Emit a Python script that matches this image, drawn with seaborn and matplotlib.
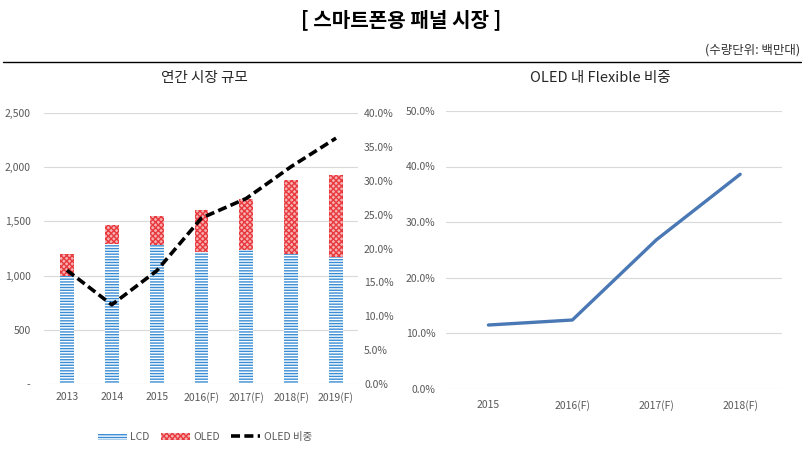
import numpy as np
import pandas as pd
import matplotlib
matplotlib.use("Agg")
import matplotlib.pyplot as plt
import matplotlib.ticker as mticker
from matplotlib.patches import Patch
from matplotlib.lines import Line2D
import seaborn as sns

# 데이터 (백만대, %)
years = ["2013", "2014", "2015", "2016(F)", "2017(F)", "2018(F)", "2019(F)"]
lcd = [1000, 1290, 1280, 1215, 1240, 1200, 1175]
oled = [200, 175, 270, 390, 470, 680, 750]
oled_share = [16.8, 11.7, 16.7, 24.5, 27.4, 32.1, 36.3]

flex_years = ["2015", "2016(F)", "2017(F)", "2018(F)"]
flex_share = [11.5, 12.4, 26.8, 38.6]

sns.set_theme(style="white")
plt.rcParams['font.family'] = ['Noto Sans CJK KR', 'DejaVu Sans']
plt.rcParams['hatch.linewidth'] = 1.0

df = pd.DataFrame({"year": years, "lcd": lcd, "oled": oled, "share": oled_share})
df["total"] = df["lcd"] + df["oled"]
df_flex = pd.DataFrame({"year": flex_years, "share": flex_share})

grid_c = "#D9D9D9"
tick_c = "#595959"
blue = "#3A8DD4"
red = "#E8393F"
pink = "#F7B0B0"

fig = plt.figure(figsize=(8.03, 4.5), dpi=100)

fig.text(0.5, 0.957, "[ 스마트폰용 패널 시장 ]", ha="center", va="center",
         fontsize=14.5, fontweight="bold", color="black")
fig.text(0.997, 0.888, "(수량단위: 백만대)", ha="right", va="center", fontsize=9, color="#333333")
fig.add_artist(Line2D([0.004, 0.998], [0.862, 0.862], color="black", lw=1.0))
fig.text(0.255, 0.826, "연간 시장 규모", ha="center", va="center", fontsize=10.5)
fig.text(0.748, 0.826, "OLED 내 Flexible 비중", ha="center", va="center", fontsize=10.5)

# 왼쪽: 연간 시장 규모
ax = fig.add_axes([0.0554, 0.1467, 0.391, 0.602])
sns.barplot(data=df, x="year", y="total", ax=ax, width=0.31,
            color="white", saturation=1, linewidth=0)
sns.barplot(data=df, x="year", y="lcd", ax=ax, width=0.31,
            color="white", saturation=1, linewidth=0)
for p in ax.containers[0]:
    p.set_facecolor(pink)
    p.set_edgecolor(red)
    p.set_hatch("xxxxxx")
for p in ax.containers[1]:
    p.set_facecolor("white")
    p.set_edgecolor(blue)
    p.set_hatch("------")
ax.set_ylim(0, 2500)
ax.set_xlim(-0.5, 6.5)
ax.yaxis.set_major_locator(mticker.MultipleLocator(500))
ax.yaxis.set_major_formatter(mticker.FuncFormatter(lambda v, _: "-" if v == 0 else f"{v:,.0f}"))
ax.grid(axis="y", color=grid_c, lw=0.8)
ax.set_axisbelow(True)
ax.set_xlabel("")
ax.set_ylabel("")
ax.tick_params(axis="both", length=0, labelsize=7.5, colors=tick_c, pad=6)
ax.tick_params(axis="y", pad=10)
sns.despine(ax=ax, left=True, bottom=True)

ax2 = ax.twinx()
sns.lineplot(x=np.arange(len(years)), y=df["share"], ax=ax2, color="black",
             lw=2.6, linestyle=(0, (2.5, 1.2)))
ax2.set_ylim(0, 40)
ax2.yaxis.set_major_locator(mticker.MultipleLocator(5))
ax2.yaxis.set_major_formatter(mticker.FuncFormatter(lambda v, _: f"{v:.1f}%"))
ax2.set_ylabel("")
ax2.tick_params(axis="y", length=0, labelsize=7.5, colors=tick_c, pad=4)
sns.despine(ax=ax2, left=True, bottom=True, right=True)

handles = [Patch(facecolor="white", edgecolor=blue, hatch="------", lw=0, label="LCD"),
           Patch(facecolor=pink, edgecolor=red, hatch="xxxxxx", lw=0, label="OLED"),
           Line2D([0], [0], color="black", lw=2.6, linestyle=(0, (2.5, 1.2)), label="OLED 비중")]
fig.legend(handles=handles, loc="center", bbox_to_anchor=(0.255, 0.029), ncol=3,
           frameon=False, fontsize=7.5, handlelength=2.8, handletextpad=0.3,
           columnspacing=1.1, labelcolor=tick_c)

# 오른쪽: OLED 내 Flexible 비중
bx = fig.add_axes([0.556, 0.1356, 0.418, 0.618])
sns.lineplot(data=df_flex, x="year", y="share", ax=bx, color="#4A78B5", lw=2.4, sort=False)
bx.set_ylim(0, 50)
bx.set_xlim(-0.5, 3.5)
bx.yaxis.set_major_locator(mticker.MultipleLocator(10))
bx.yaxis.set_major_formatter(mticker.FuncFormatter(lambda v, _: f"{v:.1f}%"))
bx.grid(axis="y", color=grid_c, lw=0.8)
bx.set_xlabel("")
bx.set_ylabel("")
bx.tick_params(axis="both", length=0, labelsize=7.5, colors=tick_c, pad=8)
sns.despine(ax=bx, left=True, bottom=True)

fig.savefig("out.png", dpi=100)
